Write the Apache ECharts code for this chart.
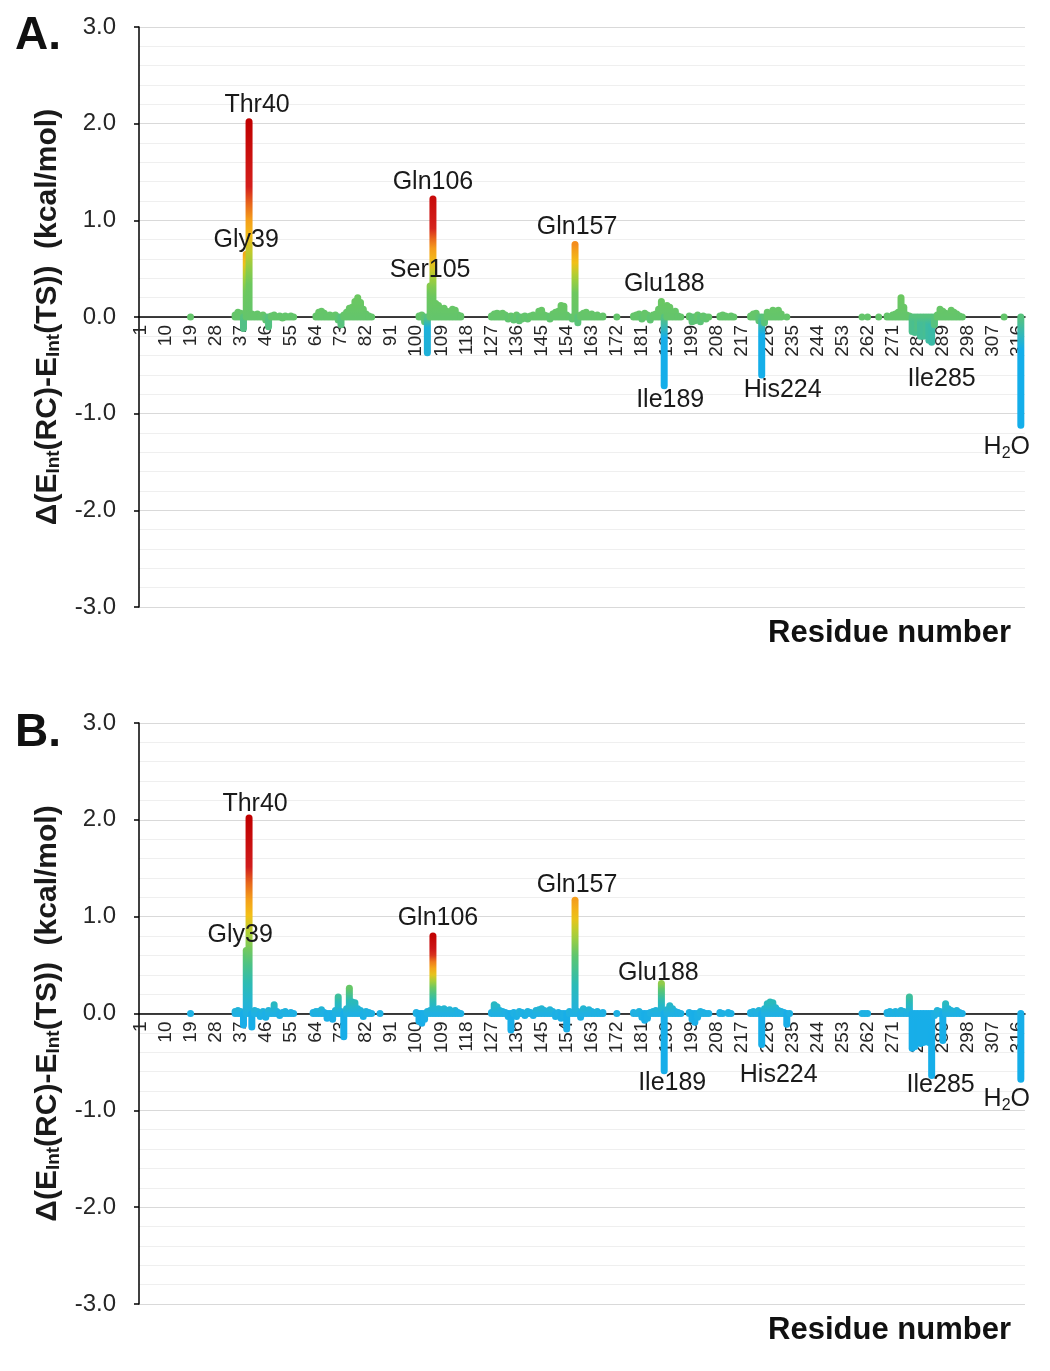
<!DOCTYPE html>
<html>
<head>
<meta charset="utf-8">
<script src="https://cdn.jsdelivr.net/npm/echarts@6/dist/echarts.min.js"></script>
<style>html,body{margin:0;padding:0;background:#fff;}#c{width:1050px;height:1371px;}</style>
</head>
<body>
<div id="c"></div>
<script>
// ---------- DATA ----------
const categoryCount = 318;   // residue index positions on the category axis (1..318)
// panel A: [residue index, value]
const valuesA = [
[19,0],
[35,0.02],[36,0.05],[37,0.04],[38,-0.12],[39,0.65],[40,2.02],[41,0.03],[42,0.02],[43,0.03],[44,0.01],[45,0.02],[46,-0.03],[47,-0.1],[48,0.01],[49,0.02],[50,0],[51,0.01],[52,-0.01],[53,0.01],[54,0],[55,0.01],[56,0],
[64,0.01],[65,0.05],[66,0.06],[67,0.04],[68,0.01],[69,0.02],[70,0.01],[71,0.02],[72,-0.03],[73,-0.08],[74,0.02],[75,0.05],[76,0.09],[77,0.1],[78,0.16],[79,0.2],[80,0.15],[81,0.08],[82,0.03],[83,0.01],[84,0],
[101,0.01],[102,0.02],[103,-0.05],[104,-0.37],[105,0.32],[106,1.22],[107,0.14],[108,0.12],[109,0.08],[110,0.09],[111,0.06],[112,0.05],[113,0.08],[114,0.07],[115,0.02],[116,0.01],
[127,0.01],[128,0.03],[129,0.04],[130,0.03],[131,0.04],[132,0.02],[133,-0.02],[134,0.01],[135,-0.03],[136,0.02],[137,-0.04],[138,-0.02],[139,0.01],[140,-0.02],[141,0.01],[142,0.02],[143,0],[144,0.06],[145,0.07],[146,0.02],[147,0.01],[148,-0.02],[149,0.03],[150,0.05],[151,0.06],[152,0.12],[153,0.11],[154,0.02],[155,0],[156,-0.02],[157,0.75],[158,-0.06],[159,0.02],[160,0.04],[161,0.05],[162,0.02],[163,0.03],[164,0.01],[165,0.02],[166,0],[167,0.01],
[172,0],
[178,0.01],[179,0.02],[180,0.03],[181,-0.02],[182,0.04],[183,0.02],[184,-0.03],[185,0.02],[186,0.03],[187,0.08],[188,0.16],[189,-0.71],[190,0.12],[191,0.1],[192,0.05],[193,0.06],[194,0.01],[195,0],
[198,0.01],[199,-0.05],[200,-0.04],[201,0.02],[202,-0.05],[203,0.01],[204,-0.02],[205,0],
[209,0.01],[210,0.02],[211,0.01],[212,0],[213,0.01],[214,0],
[220,0.01],[221,0.03],[222,0.04],[223,-0.04],[224,-0.6],[225,-0.06],[226,0.05],[227,0.03],[228,0.07],[229,0.06],[230,0.07],[231,0.03],
[233,0],
[260,0],[262,0],[266,0],
[269,0.01],[270,0],[271,0.02],[272,0.03],[273,0.05],[274,0.2],[275,0.1],[276,0.02],[277,0.01],[278,-0.15],[279,-0.16],[280,-0.12],[281,-0.2],[282,-0.2],[283,-0.18],[284,-0.24],[285,-0.26],[286,-0.08],[287,0.02],[288,0.08],[289,0.06],[290,0.04],[291,0.02],[292,0.07],[293,0.05],[294,0.03],[295,0.01],[296,0],
[311,0],
[317,-1.12]
];
// panel B: [residue index, value]
const valuesB = [
[19,0],
[35,0.02],[36,0.03],[37,0.02],[38,-0.12],[39,0.65],[40,2.02],[41,-0.14],[42,0.03],[43,0.02],[44,-0.03],[45,0.02],[46,-0.04],[47,0.03],[48,0.02],[49,0.09],[50,0.02],[51,-0.02],[52,0.01],[53,0.02],[54,0],[55,0.01],[56,0],
[63,0.01],[64,0.02],[65,0.02],[66,0.04],[67,0.01],[68,-0.05],[69,-0.03],[70,-0.06],[71,0.03],[72,0.17],[73,0.02],[74,-0.24],[75,0.05],[76,0.26],[77,0.12],[78,0.11],[79,0.05],[80,0.03],[81,-0.03],[82,0.02],[83,0.01],[84,0],
[87,0],
[100,0.01],[101,-0.08],[102,-0.1],[103,-0.06],[104,0.02],[105,0.03],[106,0.8],[107,0.04],[108,0.05],[109,0.04],[110,0.05],[111,0.03],[112,0.04],[113,0.02],[114,0.03],[115,0.01],[116,0],
[127,0.01],[128,0.09],[129,0.07],[130,0.03],[131,0.02],[132,0.01],[133,-0.03],[134,-0.17],[135,0.01],[136,-0.03],[137,0.02],[138,0.01],[139,-0.02],[140,0.02],[141,0.01],[142,-0.02],[143,0.03],[144,0.04],[145,0.05],[146,0.03],[147,0.02],[148,0.04],[149,0.02],[150,-0.03],[151,0.01],[152,-0.05],[153,-0.02],[154,-0.16],[155,0.02],[156,0.01],[157,1.17],[158,0.02],[159,-0.04],[160,0.05],[161,0.03],[162,0.04],[163,0.02],[164,0.01],[165,0.02],[166,0],[167,0.01],
[172,0],
[178,0.01],[179,0],[180,0.02],[181,-0.04],[182,-0.07],[183,-0.05],[184,0.01],[185,0.02],[186,0.03],[187,0.02],[188,0.31],[189,-0.59],[190,0.04],[191,0.08],[192,0.05],[193,0.02],[194,0.01],[195,0],
[198,0.01],[199,-0.06],[200,-0.09],[201,-0.04],[202,0.02],[203,0.01],[204,0],[205,0],
[209,0.01],[210,0],[212,0.01],[213,0],
[220,0.01],[221,0.02],[222,0.01],[223,0.03],[224,-0.32],[225,0.05],[226,0.1],[227,0.12],[228,0.11],[229,0.06],[230,0.03],[231,0.02],[232,0.01],[233,-0.11],[234,0],
[260,0],[261,0],[262,0],
[269,0.01],[270,0.02],[271,0.01],[272,0.02],[273,0.01],[274,0.03],[275,0.02],[276,0],[277,0.17],[278,-0.36],[279,-0.34],[280,-0.3],[281,-0.31],[282,-0.3],[283,-0.28],[284,-0.3],[285,-0.64],[286,-0.02],[287,0.03],[288,0.02],[289,-0.28],[290,0.1],[291,0.05],[292,0.03],[293,0.02],[294,0.03],[295,0.01],[296,0],
[317,-0.68]
];
// annotations: [residue index, text]
const labelsA = [[40,'Thr40'],[39,'Gly39'],[106,'Gln106'],[105,'Ser105'],[157,'Gln157'],[188,'Glu188'],[189,'Ile189'],[224,'His224'],[285,'Ile285'],[317,'H{s|2}O']];
const labelsB = [[40,'Thr40'],[39,'Gly39'],[106,'Gln106'],[157,'Gln157'],[188,'Glu188'],[189,'Ile189'],[224,'His224'],[285,'Ile285'],[317,'H{s|2}O']];
const yMin = -3, yMax = 3, yStep = 1;

// ---------- STYLE ----------
const labelOffsetA = {40:[8,-17],39:[0,-14],106:[0,-17],105:[0,-16],157:[2,-17],188:[3,-17],189:[6,14],224:[21,15],285:[10,37],317:[-14,22]};
const labelOffsetB = {40:[6,-14],39:[-6,-15],106:[5,-18],157:[2,-15],188:[-3,-10],189:[8,12],224:[17,31],285:[9,10],317:[-14,20]};
const FONT = '"Liberation Sans", Arial, sans-serif';
const palPosA = [[0,'#64c56b'],[0.18,'#6dc85d'],[0.3,'#a9cf36'],[0.4,'#f2c118'],[0.53,'#f5921b'],[0.66,'#d4201d'],[1,'#c00000']];
const palNegA = [[0,'#64c56b'],[0.15,'#4cbf8c'],[0.27,'#38b9a8'],[0.4,'#16aee8'],[1,'#14aeea']];
const palPosB = [[0,'#1fb1e3'],[0.15,'#2bbbb6'],[0.3,'#5ec66e'],[0.42,'#b3d032'],[0.5,'#f3c017'],[0.62,'#f4901c'],[0.75,'#d01d1d'],[1,'#c00000']];
const palNegB = [[0,'#1fb1e3'],[0.08,'#18aee8'],[1,'#14aeea']];
const spanRefA = 1.4, spanRefB = 0.83, spanOverrideB = {157: 2.0, 39: 2.0};
const grids = [{left:139, right:25, top:27, height:580}, {left:139, right:25, top:723, height:581}];

function hex2rgb(h){return [parseInt(h.slice(1,3),16),parseInt(h.slice(3,5),16),parseInt(h.slice(5,7),16)];}
function palAt(pal, t){
  if (t <= pal[0][0]) return pal[0][1];
  for (let i=1;i<pal.length;i++){
    if (t <= pal[i][0]){
      const a=pal[i-1], b=pal[i]; const f=(t-a[0])/(b[0]-a[0]);
      const ca=hex2rgb(a[1]), cb=hex2rgb(b[1]);
      return 'rgb('+ca.map((c,k)=>Math.round(c+(cb[k]-c)*f)).join(',')+')';
    }
  }
  return pal[pal.length-1][1];
}

function makeSeries(values, labels, offs, gi, palPos, palNeg, spanRef, spanOverride){
  const lmap = {}; labels.forEach(l=>{lmap[l[0]]=l[1];});
  return {
    type:'custom', xAxisIndex:gi, yAxisIndex:gi, z:3,
    data: values.map(d=>[d[0]-1, d[1]]),
    encode:{x:0,y:1},
    renderItem:function(params, api){
      const idx = api.value(0), v = api.value(1);
      const p0 = api.coord([idx,0]), p1 = api.coord([idx,v]);
      const w = 7, x = p0[0];
      const top = Math.min(p0[1],p1[1]) - w/2, h = Math.abs(p1[1]-p0[1]) + w;
      let fill;
      if (Math.abs(p1[1]-p0[1]) < 1) {
        fill = v >= 0 ? palAt(palPos,0) : palAt(palNeg, 0);
      } else if (v > 0) {
        const H = spanOverride[idx+1] || Math.max(v, spanRef);
        const stops = [];
        for (let s=0;s<=12;s++){ stops.push({offset:s/12, color:palAt(palPos, s/12*v/H)}); }
        fill = new echarts.graphic.LinearGradient(x,p0[1],x,p1[1],stops,true);
      } else {
        const a = Math.abs(v);
        fill = new echarts.graphic.LinearGradient(x,p0[1],x,p1[1],[
          {offset:0,color:palAt(palNeg, Math.min(a,0.08))},
          {offset:0.3,color:palAt(palNeg,a)},
          {offset:1,color:palAt(palNeg,a)}],true);
      }
      const children = [{type:'rect', shape:{x:x-w/2, y:top, width:w, height:h, r:w/2}, style:{fill:fill}}];
      const lab = lmap[idx+1];
      if (lab) {
        const o = offs[idx+1] || [0,0];
        children.push({type:'text', z2:10, x:x+o[0], y:p1[1]+o[1], style:{
          text:lab, fill:'#1a1a1a', font:'25px '+FONT, align:'center', verticalAlign:'middle',
          rich:{s:{fontSize:16, fontFamily:FONT, fill:'#1a1a1a', padding:[12,0,0,0]}}
        }});
      }
      return {type:'group', children:children};
    }
  };
}

const cats = []; for (let i=1;i<=categoryCount;i++) cats.push(String(i));

function xAxisCfg(gi){
  // place the category axis on the zero line of the value axis
  const off = -grids[gi].height * (0 - yMin) / (yMax - yMin);
  return {type:'category', gridIndex:gi, data:cats, boundaryGap:true, position:'bottom', offset:off,
    axisLine:{onZero:false, lineStyle:{color:'#000', width:1.5}},
    axisTick:{show:false},
    axisLabel:{rotate:90, interval:8, fontSize:19, fontFamily:FONT, color:'#262626', margin:8},
    splitLine:{show:false}};
}
const yName = 'Δ(E{s|Int}(RC)-E{s|Int}(TS))  (kcal/mol)';
function yAxisCfg(gi){
  return {type:'value', gridIndex:gi, min:yMin, max:yMax, interval:yStep,
    axisLine:{show:true, onZero:false, lineStyle:{color:'#000', width:1.5}},
    axisTick:{show:true, length:5, lineStyle:{color:'#000', width:1.5}},
    axisLabel:{formatter:v=>v.toFixed(1), fontSize:24, fontFamily:FONT, color:'#262626', margin:23},
    splitLine:{show:true, lineStyle:{color:'#d9d9d9', width:1}},
    minorTick:{show:false, splitNumber:5},
    minorSplitLine:{show:true, lineStyle:{color:'#efefef', width:1}},
    name:yName, nameLocation:'middle', nameRotate:90, nameGap:74,
    nameTextStyle:{fontSize:30, fontWeight:'bold', fontFamily:FONT, color:'#1a1a1a',
      rich:{s:{fontSize:19, fontWeight:'bold', fontFamily:FONT, color:'#1a1a1a', padding:[14,0,0,0]}}}
  };
}

const chart = echarts.init(document.getElementById('c'), null, {renderer:'canvas'});
chart.setOption({
  backgroundColor:'#fff',
  animation:false,
  title:[
    {text:'A.', left:10, top:8, textStyle:{fontSize:46, fontWeight:'bold', fontFamily:FONT, color:'#111'}},
    {text:'B.', left:10, top:705, textStyle:{fontSize:46, fontWeight:'bold', fontFamily:FONT, color:'#111'}},
    {text:'Residue number', right:34, top:613, textStyle:{fontSize:31, fontWeight:'bold', fontFamily:FONT, color:'#111'}},
    {text:'Residue number', right:34, top:1310, textStyle:{fontSize:31, fontWeight:'bold', fontFamily:FONT, color:'#111'}}
  ],
  grid:grids,
  xAxis:[xAxisCfg(0), xAxisCfg(1)],
  yAxis:[yAxisCfg(0), yAxisCfg(1)],
  series:[
    makeSeries(valuesA, labelsA, labelOffsetA, 0, palPosA, palNegA, spanRefA, {}),
    makeSeries(valuesB, labelsB, labelOffsetB, 1, palPosB, palNegB, spanRefB, spanOverrideB)
  ]
});
</script>
</body>
</html>
